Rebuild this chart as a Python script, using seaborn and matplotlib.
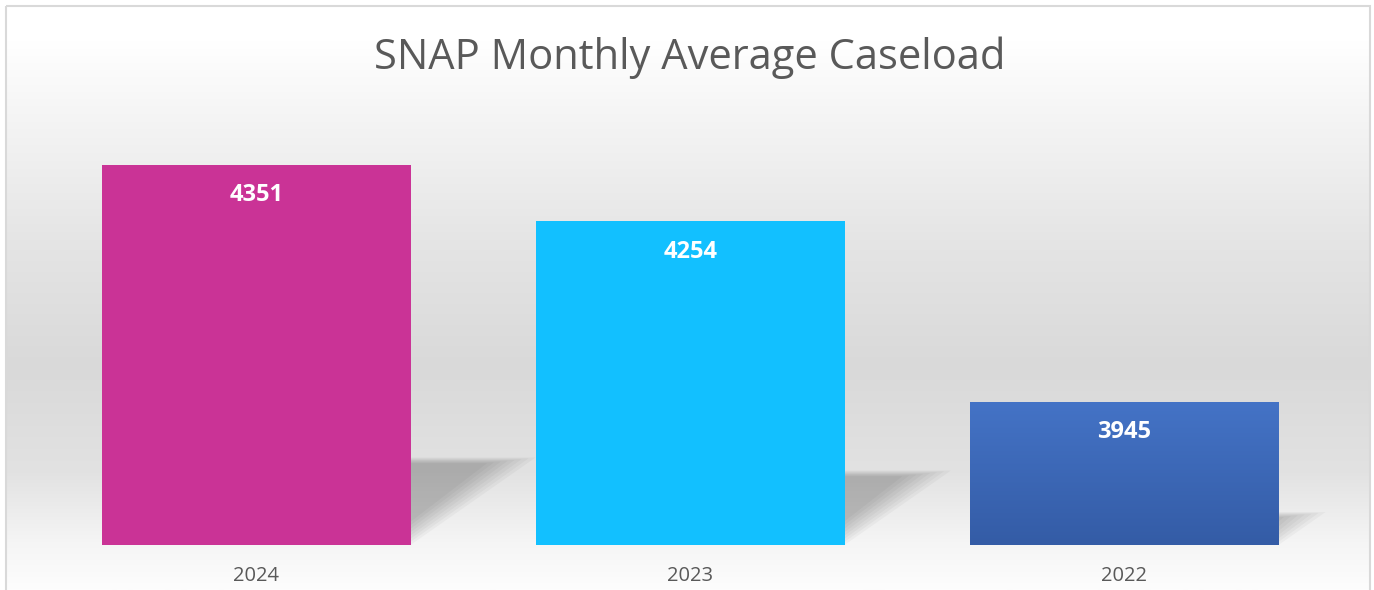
import numpy as np
import pandas as pd
import matplotlib
matplotlib.use("Agg")
import matplotlib.pyplot as plt
from matplotlib.colors import LinearSegmentedColormap
from matplotlib.patches import Polygon, Rectangle
import seaborn as sns

# chart data
years = ["2024", "2023", "2022"]
caseload = [4351, 4254, 3945]
bar_colors = ["#CA3396", "#12C0FF", "#3F6EBF"]
title = "SNAP Monthly Average Caseload"

df = pd.DataFrame({"Year": years, "Caseload": caseload})

sns.set_theme(style="white")
plt.rcParams["font.family"] = ["Open Sans", "DejaVu Sans"]
TEXT = "#595959"

fig = plt.figure(figsize=(13.74, 5.90), dpi=100)

# background card with soft vertical gradient (pixel coords)
bg = fig.add_axes([0, 0, 1, 1], zorder=-2)
bg.set_xlim(0, 1374)
bg.set_ylim(590, 0)
bg.axis("off")
stops = [(0.0, "#ffffff"), (0.06, "#ffffff"), (0.17, "#f6f6f6"),
         (0.40, "#e5e5e5"), (0.62, "#d9d9d9"), (0.80, "#e2e2e2"),
         (0.92, "#f5f5f5"), (1.0, "#fdfdfd")]
cmap = LinearSegmentedColormap.from_list("bg", stops)
grad = np.linspace(0, 1, 256).reshape(-1, 1)
bg.imshow(grad, cmap=cmap, aspect="auto", extent=[6, 1370, 590, 6], vmin=0, vmax=1)
bg.add_patch(Rectangle((6, 6), 1364, 600, fill=False, edgecolor="#d9d9d9", lw=1.5))

fig.text(690 / 1374, 1 - 58 / 590, title, ha="center", va="center",
         fontsize=30, color=TEXT)

ax = fig.add_axes([39.5 / 1374, 45 / 590, 1302 / 1374, 409 / 590])
sns.barplot(data=df, x="Year", y="Caseload", hue="Year", palette=bar_colors,
            width=0.71, legend=False, saturation=1, ax=ax, zorder=3,
            edgecolor="none", linewidth=0)
base = 3700
ax.set_ylim(base, 4400)
ax.set_xlim(-0.5, 2.5)
ax.patch.set_visible(False)
for s in ax.spines.values():
    s.set_visible(False)
ax.set_yticks([])
ax.set_xlabel("")
ax.set_ylabel("")
ax.tick_params(axis="x", length=0, labelsize=14.5, colors=TEXT, pad=15)

# perspective shadows and labels
for i, p in enumerate(ax.patches):
    xl = p.get_x()
    xr = xl + p.get_width()
    v = caseload[i]
    h = v - base
    top_s = base + 0.23 * h
    dx = 0.288 * h / 651
    for k in range(8):
        g = k * 0.01
        poly = Polygon([(xl + g, base), (xr - g, base), (xr + dx - g * 1.6, top_s - g * 140),
                        (xl + dx, top_s - g * 140)],
                       closed=True, facecolor="black", edgecolor="none",
                       alpha=0.03, zorder=1)
        ax.add_patch(poly)
    ax.annotate(str(v), (xl + p.get_width() / 2, v), xytext=(0, -22),
                textcoords="offset points", ha="center", va="center",
                fontsize=17, fontweight="bold", color="white", zorder=5)

# gradient fill on the 2022 bar
p3 = ax.patches[2]
bar_grad = LinearSegmentedColormap.from_list("b3", ["#345CA6", "#4473C6"])
im = ax.imshow(np.linspace(0, 1, 100).reshape(-1, 1), cmap=bar_grad, aspect="auto",
               origin="lower",
               extent=[p3.get_x(), p3.get_x() + p3.get_width(), base, caseload[2]],
               zorder=4)
im.set_clip_path(p3)
ax.set_xlim(-0.5, 2.5)
ax.set_ylim(base, 4400)

fig.savefig("out.png", dpi=100)
